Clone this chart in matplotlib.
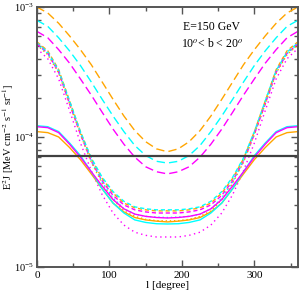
"""
    Gamma-ray intensity vs galactic longitude, 10 < b < 20 deg.
"""

from matplotlib import pyplot as plt
from matplotlib.ticker import MultipleLocator, LogLocator, NullFormatter

plt.rcParams['font.family'] = 'Liberation Serif'
plt.rcParams['mathtext.fontset'] = 'stix'

# longitude grid [degree]
LON = [0, 15, 30, 45, 60, 75, 90, 105, 120, 135, 150, 165, 180,
       195, 210, 225, 240, 255, 270, 285, 300, 315, 330, 345, 360]

# E^2 J in units of 1e-5 MeV cm^-2 s^-1 sr^-1
orange_upper = [100, 90, 75, 60, 47, 36, 26.5, 19.5, 14.5, 11.2, 9.2, 8.1, 7.7,
                8.1, 9.2, 11.2, 14.5, 19.5, 26.5, 36, 47, 60, 75, 90, 100]
cyan_upper = [79, 71, 58, 46, 35.5, 26.5, 19.5, 14.5, 11, 8.6, 7.2, 6.5, 6.3,
              6.5, 7.2, 8.6, 11, 14.5, 19.5, 26.5, 35.5, 46, 58, 71, 79]
magenta_upper = [65, 58, 47, 37, 28, 21, 15.5, 11.5, 8.8, 7.0, 5.9, 5.4, 5.2,
                 5.4, 5.9, 7.0, 8.8, 11.5, 15.5, 21, 28, 37, 47, 58, 65]

orange_dash = [54, 46, 33, 19, 11, 6.8, 4.8, 3.7, 3.1, 2.85, 2.75, 2.7, 2.7,
               2.7, 2.75, 2.85, 3.1, 3.7, 4.8, 6.8, 11, 19, 33, 46, 54]
cyan_dash = [53, 45, 32.5, 19, 11, 6.9, 4.9, 3.8, 3.2, 2.9, 2.8, 2.75, 2.75,
             2.75, 2.8, 2.9, 3.2, 3.8, 4.9, 6.9, 11, 19, 32.5, 45, 53]
magenta_dash = [52, 44, 31.5, 18, 10.5, 6.5, 4.6, 3.55, 3.0, 2.75, 2.65, 2.6, 2.6,
                2.6, 2.65, 2.75, 3.0, 3.55, 4.6, 6.5, 10.5, 18, 31.5, 44, 52]

orange_dot = [51, 43, 31, 18, 10.5, 6.4, 4.4, 3.3, 2.7, 2.45, 2.32, 2.27, 2.26,
              2.27, 2.32, 2.45, 2.7, 3.3, 4.4, 6.4, 10.5, 18, 31, 43, 51]
cyan_dot = [52, 44, 32, 18.5, 10.8, 6.6, 4.5, 3.4, 2.8, 2.55, 2.45, 2.42, 2.4,
            2.42, 2.45, 2.55, 2.8, 3.4, 4.5, 6.6, 10.8, 18.5, 32, 44, 52]
magenta_dot = [48, 40, 28, 16, 9.0, 5.5, 3.6, 2.6, 2.1, 1.85, 1.75, 1.7, 1.7,
               1.7, 1.75, 1.85, 2.1, 2.6, 3.6, 5.5, 9.0, 16, 28, 40, 48]

orange_solid = [11, 10.8, 10, 8.3, 6.7, 5.2, 4.0, 3.1, 2.65, 2.4, 2.3, 2.25, 2.22,
                2.25, 2.3, 2.4, 2.65, 3.1, 4.0, 5.2, 6.7, 8.3, 10, 10.8, 11]
cyan_solid = [12.2, 12, 11, 9.0, 7.2, 5.4, 4.0, 3.1, 2.6, 2.3, 2.2, 2.15, 2.14,
              2.15, 2.2, 2.3, 2.6, 3.1, 4.0, 5.4, 7.2, 9.0, 11, 12, 12.2]
magenta_solid = [12, 11.8, 10.8, 8.8, 7.0, 5.4, 4.2, 3.3, 2.8, 2.55, 2.45, 2.4, 2.38,
                 2.4, 2.45, 2.55, 2.8, 3.3, 4.2, 5.4, 7.0, 8.8, 10.8, 11.8, 12]

# measured level (horizontal line)
DATA_LEVEL = 7.2

UNIT = 1e-5
ORANGE, CYAN, MAGENTA = '#FFA500', '#00FFFF', '#FF00FF'

SERIES = [
    (orange_upper, ORANGE, (6, 3)), (cyan_upper, CYAN, (6, 3)), (magenta_upper, MAGENTA, (6, 3)),
    (orange_dash, ORANGE, (3, 2)), (cyan_dash, CYAN, (3, 2)), (magenta_dash, MAGENTA, (3, 2)),
    (orange_dot, ORANGE, (1, 2)), (cyan_dot, CYAN, (1, 2)), (magenta_dot, MAGENTA, (1, 2.5)),
    (orange_solid, ORANGE, None), (cyan_solid, CYAN, None), (magenta_solid, MAGENTA, None),
]

fig = plt.figure(figsize=(3.0, 2.93), dpi=100)
ax = fig.add_axes([0.123, 0.089, 0.870, 0.887])

for vals, col, dash in SERIES:
    y = [v * UNIT for v in vals]
    line, = ax.plot(LON, y, color=col, lw=1.0)
    if dash is not None:
        line.set_dashes(dash)

ax.axhline(DATA_LEVEL * UNIT, color='#404040', lw=1.6)

ax.set_yscale('log')
ax.set_xlim(0, 360)
ax.set_ylim(1e-5, 1e-3)

ax.xaxis.set_major_locator(MultipleLocator(100))
ax.xaxis.set_minor_locator(MultipleLocator(50))
ax.yaxis.set_major_locator(LogLocator(base=10))
ax.yaxis.set_minor_locator(LogLocator(base=10, subs=range(2, 10)))
ax.yaxis.set_minor_formatter(NullFormatter())

ax.tick_params(which='both', direction='in', top=True, right=True,
               labelsize=8, color='#555555', pad=3)
ax.tick_params(axis='y', which='major', pad=2, labelsize=7.5)
ax.tick_params(which='major', length=5, width=1)
ax.tick_params(which='minor', length=3, width=1)
for s in ax.spines.values():
    s.set_color('#555555')
    s.set_linewidth(1.4)

ax.set_xlabel('l [degree]', fontsize=8, labelpad=1)
ax.set_ylabel(r'E$^2$J [MeV cm$^{-2}$ s$^{-1}$ sr$^{-1}$]', fontsize=7.5)
ax.yaxis.set_label_coords(-0.08, 0.5)

ax.text(0.67, 0.91, 'E=150 GeV', transform=ax.transAxes, ha='center', fontsize=8.5)
ax.text(0.67, 0.845, r'10$^{o}$< b < 20$^{o}$', transform=ax.transAxes, ha='center', fontsize=8.5)

fig.savefig('out.png', dpi=100)
